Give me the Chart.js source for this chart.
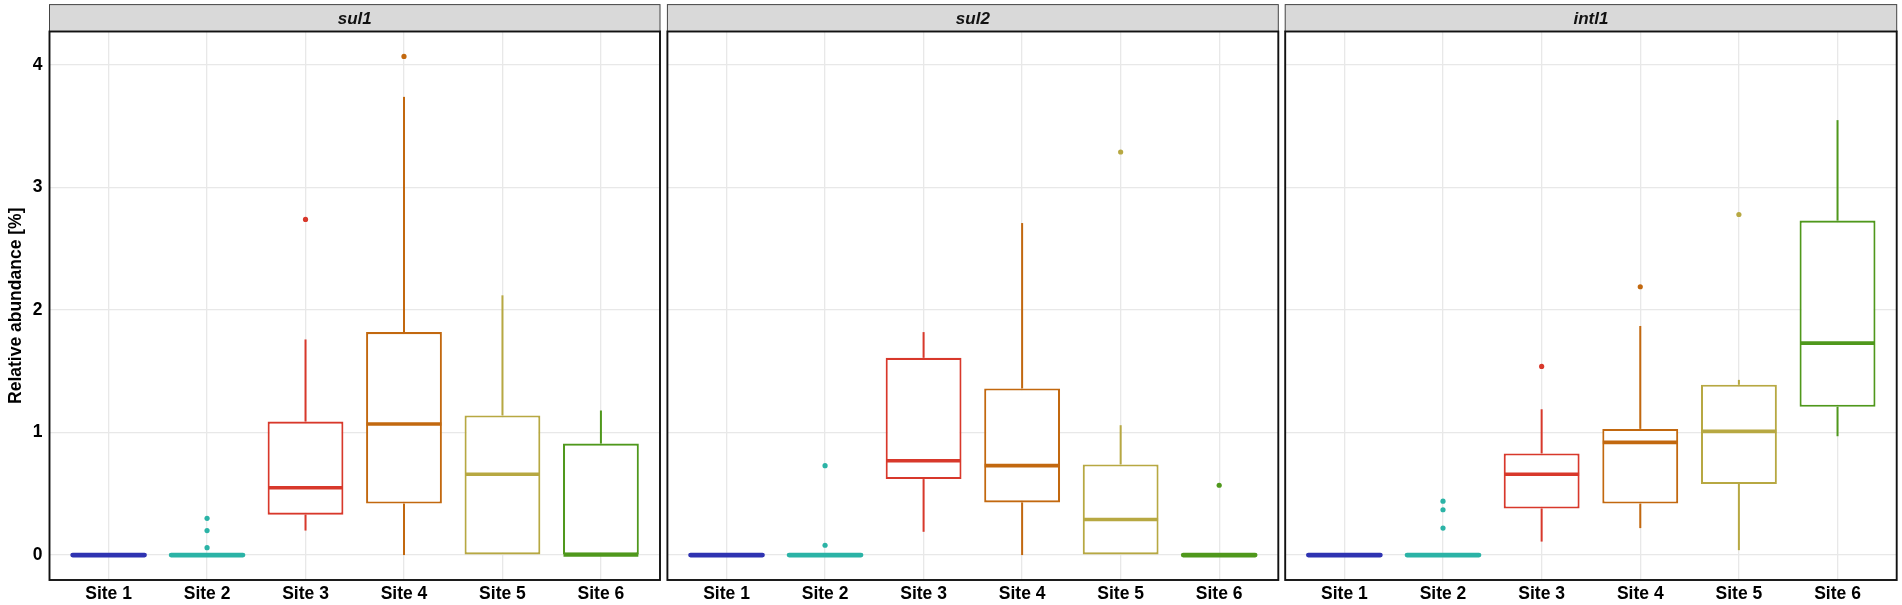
<!DOCTYPE html>
<html>
<head>
<meta charset="utf-8">
<script src="https://cdn.jsdelivr.net/npm/chart.js@4.4.0/dist/chart.umd.min.js"></script>
<style>
  body { margin: 0; background: #fff; }
  canvas { position: absolute; top: 0; }
</style>
</head>
<body>
<canvas id="p1" width="664" height="605" style="left:0px"></canvas>
<canvas id="p2" width="620" height="605" style="left:663px"></canvas>
<canvas id="p3" width="621" height="605" style="left:1281px"></canvas>
<script>
const sites = ['Site 1', 'Site 2', 'Site 3', 'Site 4', 'Site 5', 'Site 6'];
const yTicks = [0, 1, 2, 3, 4];

// sul1
const sul1Lower  = [0, 0, 0.20, 0.00, 0.00, 0.00];
const sul1Q1     = [0, 0, 0.33, 0.42, 0.00, 0.00];
const sul1Median = [0, 0, 0.55, 1.07, 0.66, 0.00];
const sul1Q3     = [0, 0, 1.09, 1.82, 1.14, 0.91];
const sul1Upper  = [0, 0, 1.76, 3.74, 2.12, 1.18];
const sul1Out    = [[], [0.30, 0.20, 0.06], [2.74], [4.07], [], []];

// sul2
const sul2Lower  = [0, 0, 0.19, 0.00, 0.00, 0];
const sul2Q1     = [0, 0, 0.62, 0.43, 0.00, 0];
const sul2Median = [0, 0, 0.77, 0.73, 0.29, 0];
const sul2Q3     = [0, 0, 1.61, 1.36, 0.74, 0];
const sul2Upper  = [0, 0, 1.82, 2.71, 1.06, 0];
const sul2Out    = [[], [0.73, 0.08], [], [], [3.29], [0.57]];

// intl1
const intl1Lower  = [0, 0, 0.11, 0.22, 0.04, 0.97];
const intl1Q1     = [0, 0, 0.38, 0.42, 0.58, 1.21];
const intl1Median = [0, 0, 0.66, 0.92, 1.01, 1.73];
const intl1Q3     = [0, 0, 0.83, 1.03, 1.39, 2.73];
const intl1Upper  = [0, 0, 1.19, 1.87, 1.43, 3.55];
const intl1Out    = [[], [0.44, 0.37, 0.22], [1.54], [2.19], [2.78], []];

const siteColors = ['#2f33b1', '#2bb3a6', '#d8382b', '#c2680f', '#b7a842', '#4f981c'];

// ggplot style 5% expansion of the y range
const allVals = [].concat(sul1Upper, sul2Upper, intl1Upper, ...sul1Out, ...sul2Out, ...intl1Out, 0);
const yTop = Math.max(...allVals);
const yMin = 0 - yTop * 0.05;
const yMax = yTop + yTop * 0.05;

const boldFont = { family: 'Liberation Sans, Arial, sans-serif', size: 17.5, weight: 'bold' };

function makePanel(id, title, lo, q1, med, q3, hi, out, yWidth, padRight, showY) {
  const points = [];
  out.forEach((arr, i) => arr.forEach(v => points.push({ x: i + 1, y: v })));

  const facet = {
    id: 'facet_' + id,
    afterDatasetsDraw(chart) {
      const ctx = chart.ctx;
      const xs = chart.scales.x, ys = chart.scales.y;
      const bars = chart.getDatasetMeta(0).data;
      ctx.save();
      sites.forEach((s, i) => {
        const cx = xs.getPixelForValue(i + 1);
        const w = bars[i].width;
        ctx.strokeStyle = siteColors[i];
        ctx.lineWidth = 2;
        ctx.lineCap = 'butt';
        if (hi[i] > q3[i]) {
          ctx.beginPath();
          ctx.moveTo(cx, ys.getPixelForValue(q3[i]));
          ctx.lineTo(cx, ys.getPixelForValue(hi[i]));
          ctx.stroke();
        }
        if (lo[i] < q1[i]) {
          ctx.beginPath();
          ctx.moveTo(cx, ys.getPixelForValue(q1[i]));
          ctx.lineTo(cx, ys.getPixelForValue(lo[i]));
          ctx.stroke();
        }
        const flat = q1[i] === q3[i];
        ctx.lineWidth = flat ? 4.8 : 3.6;
        ctx.lineCap = flat ? 'round' : 'butt';
        const my = ys.getPixelForValue(med[i]);
        ctx.beginPath();
        ctx.moveTo(cx - w / 2 + (flat ? 2 : 0.5), my);
        ctx.lineTo(cx + w / 2 - (flat ? 2 : 0.5), my);
        ctx.stroke();
      });
      ctx.restore();
    },
    afterDraw(chart) {
      const ctx = chart.ctx;
      const a = chart.chartArea;
      ctx.save();
      // strip
      ctx.fillStyle = '#d9d9d9';
      ctx.fillRect(a.left, 4.6, a.right - a.left, a.top - 4.6);
      ctx.strokeStyle = '#444';
      ctx.lineWidth = 1;
      ctx.strokeRect(a.left, 4.6, a.right - a.left, a.top - 4.6);
      ctx.fillStyle = '#111';
      ctx.font = 'italic bold 17px "Liberation Sans", Arial, sans-serif';
      ctx.textAlign = 'center';
      ctx.textBaseline = 'middle';
      ctx.fillText(title, (a.left + a.right) / 2, (4.6 + a.top) / 2 + 1);
      // panel frame
      ctx.strokeStyle = '#111';
      ctx.lineWidth = 1.9;
      ctx.strokeRect(a.left, a.top, a.right - a.left, a.bottom - a.top);
      ctx.restore();
    }
  };

  return new Chart(document.getElementById(id), {
    type: 'bar',
    data: {
      datasets: [
        {
          type: 'bar',
          data: sites.map((s, i) => ({ x: i + 1, y: [q1[i], q3[i]] })),
          backgroundColor: '#ffffff',
          borderColor: siteColors,
          borderWidth: 2.1,
          borderSkipped: false,
          barPercentage: 0.77,
          categoryPercentage: 1
        },
        {
          type: 'scatter',
          data: points,
          pointRadius: 2.6,
          pointBorderWidth: 0,
          pointBackgroundColor: c => siteColors[c.raw.x - 1]
        }
      ]
    },
    options: {
      responsive: false,
      animation: false,
      layout: { padding: { top: 31.5, right: padRight, left: 0, bottom: 0 } },
      plugins: { legend: { display: false }, tooltip: { enabled: false } },
      scales: {
        x: {
          type: 'linear',
          min: 0.4,
          max: 6.6,
          offset: false,
          grid: { color: '#e8e8e8', lineWidth: 1.3, drawTicks: false, offset: false },
          border: { display: false },
          ticks: {
            stepSize: 1,
            includeBounds: false,
            autoSkip: false,
            maxRotation: 0,
            padding: 4,
            color: '#000',
            font: boldFont,
            callback: v => Number.isInteger(v) ? sites[v - 1] : ''
          },
          afterFit: s => { s.height = 25; }
        },
        y: {
          min: yMin,
          max: yMax,
          grid: { color: '#e8e8e8', lineWidth: 1.3, drawTicks: false },
          border: { display: false },
          ticks: {
            display: showY,
            stepSize: 1,
            includeBounds: false,
            padding: 7,
            color: '#000',
            font: boldFont,
            callback: v => yTicks.includes(v) ? String(v) : ''
          },
          title: {
            display: showY,
            text: 'Relative abundance [%]',
            color: '#000',
            font: boldFont,
            padding: { top: 6, bottom: 0 }
          },
          afterFit: s => { s.width = yWidth; }
        }
      }
    },
    plugins: [facet]
  });
}

makePanel('p1', 'sul1', sul1Lower, sul1Q1, sul1Median, sul1Q3, sul1Upper, sul1Out, 49.5, 4, true);
makePanel('p2', 'sul2', sul2Lower, sul2Q1, sul2Median, sul2Q3, sul2Upper, sul2Out, 4.4, 4.7, false);
makePanel('p3', 'intl1', intl1Lower, intl1Q1, intl1Median, intl1Q3, intl1Upper, intl1Out, 4.2, 5.3, false);
</script>
</body>
</html>
